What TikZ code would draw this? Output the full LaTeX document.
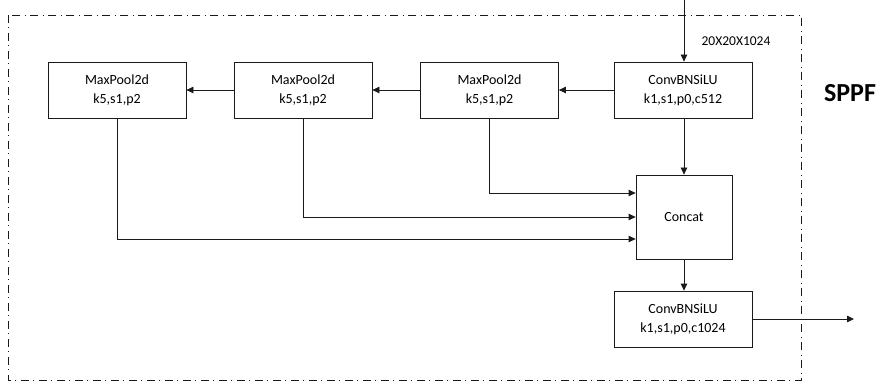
\documentclass[tikz,border=0pt]{standalone}
\usepackage{fontspec}
\setmainfont{Carlito}
\usepackage{tikz}
\usetikzlibrary{arrows.meta, positioning, calc}
\definecolor{spline}{HTML}{1A1A1A}

\begin{document}
\begin{tikzpicture}[
    x=1pt, y=-1pt,
    every node/.style={font=\fontsize{14}{19}\selectfont, align=center},
    block/.style={draw=spline, line width=0.8pt, minimum width=138pt,
                  minimum height=56pt, inner sep=0pt},
    link/.style={-{Triangle[length=7pt,width=6.5pt]}, line width=0.8pt, draw=spline},
    frame/.style={line width=0.8pt, draw=spline,
                  dash pattern=on 8pt off 4pt on 1pt off 5pt}
  ]
    \useasboundingbox (0,0) rectangle (881,382);
    \draw[frame] (8,15) rectangle (801,380);

    \node[block] (conv1) at (683,90) {ConvBNSiLU\\k1,s1,p0,c512};
    \node[block] (pool3) at (489.5,90) {MaxPool2d\\k5,s1,p2};
    \node[block] (pool2) at (303,90) {MaxPool2d\\k5,s1,p2};
    \node[block] (pool1) at (117,90) {MaxPool2d\\k5,s1,p2};
    \node[block, minimum width=96pt, minimum height=84pt] (concat) at (684,217) {Concat};
    \node[block] (conv2) at (683,319) {ConvBNSiLU\\k1,s1,p0,c1024};

    \coordinate (in) at (684,0);
    \coordinate (out) at (854,319);
    \node[font=\fontsize{13.5}{16}\selectfont] (shape) at (736,41) {20X20X1024};
    \node[font=\fontsize{26}{30}\selectfont\bfseries] (sppf) at (850,93) {SPPF};

    \draw[link] (in) -- (in |- conv1.north);
    \draw[link] (conv1) -- (pool3);
    \draw[link] (pool3) -- (pool2);
    \draw[link] (pool2) -- (pool1);
    \draw[link] (conv1.south -| in) -- (in |- concat.north);
    \draw[link] (pool3.south) |- ($(concat.west)+(0,-24)$);
    \draw[link] (pool2.south) |- (concat.west);
    \draw[link] (pool1.south) |- ($(concat.west)+(0,22)$);
    \draw[link] (in |- concat.south) -- (in |- conv2.north);
    \draw[link] (conv2.east) -- (out);
  \end{tikzpicture}
\end{document}
